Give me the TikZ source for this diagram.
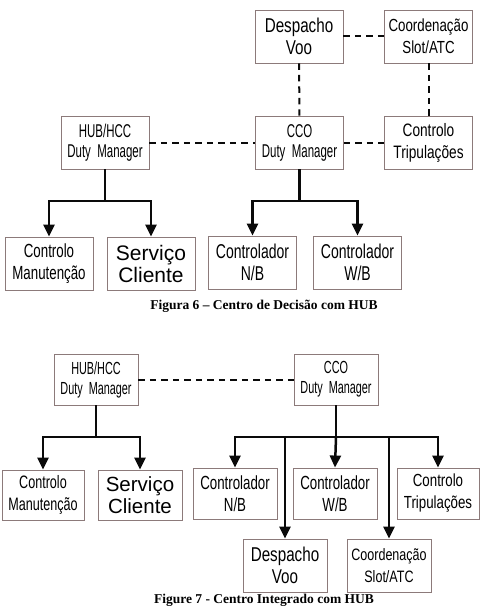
\documentclass[tikz,border=0pt]{standalone}
\usepackage{fontspec}
\setmainfont{Liberation Serif}
\setsansfont{Liberation Sans}
\newfontfamily\condsf[FakeStretch=0.62]{Liberation Sans}
\newfontfamily\narrowsf[FakeStretch=0.70]{Liberation Sans}
\newfontfamily\semisf[FakeStretch=0.76]{Liberation Sans}
\usetikzlibrary{arrows.meta, positioning, calc}
\definecolor{boxEdge}{RGB}{140,122,122}
\definecolor{lineInk}{RGB}{10,10,10}

\begin{document}
\begin{tikzpicture}[x=1pt,y=-1pt,
  unit/.style={draw=boxEdge,line width=0.9pt,fill=white,align=center,
               minimum width=88pt,minimum height=53pt,inner sep=0pt},
  unitS/.style={unit,minimum width=84pt,minimum height=51pt},
  duty/.style={font=\condsf\fontsize{#1}{20}\selectfont},
  ctrl/.style={font=\narrowsf\fontsize{#1}{22}\selectfont},
  semi/.style={font=\semisf\fontsize{#1}{22}\selectfont},
  wide/.style={font=\sffamily\fontsize{#1}{22}\selectfont},
  link/.style={line width=2pt,draw=lineInk,dash pattern=on 6.5pt off 5pt},
  stem/.style={line width=2.5pt,draw=lineInk},
  tree/.style={stem,-{Triangle[length=12pt,width=11pt]}},
  caption/.style={font=\bfseries\fontsize{13.5}{15}\selectfont}]
\useasboundingbox (0,0) rectangle (479,607);

% ===== Figura 6 — top two rows =====
\node[unit,semi=20] (desp6) at (299,36.5) {Despacho\\Voo};
\node[unit,semi=17.5] (coord6) at (428.5,36.5) {Coordenação\\Slot/ATC};
\node[unit,duty=18.5] (hub6) at (105,142.5) {HUB/HCC\\Duty~ Manager};
\node[unit,duty=18.5] (cco6) at (299.5,142.5) {CCO\\Duty~ Manager};
\node[unit,semi=18] (trip6) at (428.5,142.5) {Controlo\\Tripulações};

% bottom row
\node[unit,ctrl=19] (manut6) at (49,263.5) {Controlo\\Manutenção};
\node[unit,wide=21] (serv6) at (151,263.5) {Serviço\\Cliente};
\node[unit,ctrl=20] (nb6) at (252.5,262.5) {Controlador\\N/B};
\node[unit,ctrl=20] (wb6) at (357.5,262.5) {Controlador\\W/B};

% dashed links
\draw[link] (desp6) -- (coord6);
\draw[link] (desp6) -- (cco6);
\draw[link] (coord6) -- (trip6);
\draw[link] (hub6) -- (cco6);
\draw[link] (cco6) -- (trip6);

% branches
\coordinate (hubJ6) at (hub6.south |- 0,201);
\coordinate (ccoJ6) at (cco6.south |- 0,201);
\draw[stem] (hub6.south) -- (hubJ6);
\draw[tree] (hubJ6) -| (manut6.north);
\draw[tree] (hubJ6) -| (serv6.north);
\draw[stem] (cco6.south) -- (ccoJ6);
\draw[tree] (ccoJ6) -| (nb6.north);
\draw[tree] (ccoJ6) -| (wb6.north);

\node[caption] (cap6) at (264,306) {Figura 6 -- Centro de Decisão com HUB};

% ===== Figure 7 — integrated centre =====
\node[unitS,duty=17.5] (hub7) at (96,379.5) {HUB/HCC\\Duty~ Manager};
\node[unitS,duty=17.5] (cco7) at (336,379.5) {CCO\\Duty~ Manager};
\draw[link] (hub7) -- (cco7);

\node[unitS,ctrl=18,minimum width=82pt,minimum height=50pt] (manut7) at (43,495) {Controlo\\Manutenção};
\node[unitS,wide=20.5,minimum height=50pt] (serv7) at (140,495) {Serviço\\Cliente};
\node[unitS,ctrl=19] (nb7) at (235,493.5) {Controlador\\N/B};
\node[unitS,ctrl=19] (wb7) at (335,493.5) {Controlador\\W/B};
\node[unitS,semi=17.5,minimum width=82pt] (trip7) at (438,493.5) {Controlo\\Tripulações};
\node[unitS,semi=20,minimum height=53pt] (desp7) at (285,565.5) {Despacho\\Voo};
\node[unitS,semi=16.5,minimum height=53pt] (coord7) at (389,565.5) {Coordenação\\Slot/ATC};

\coordinate (hubJ7) at (hub7.south |- 0,437);
\coordinate (ccoJ7) at (cco7.south |- 0,437);
\draw[stem] (hub7.south) -- (hubJ7);
\draw[tree] (hubJ7) -| (manut7.north);
\draw[tree] (hubJ7) -| (serv7.north);
\draw[stem] (cco7.south) -- (ccoJ7);
\draw[tree] (ccoJ7) -| (nb7.north);
\draw[tree] (ccoJ7) -- (wb7.north);
\draw[tree] (ccoJ7) -| (trip7.north);
\draw[tree] (ccoJ7) -| (desp7.north);
\draw[tree] (ccoJ7) -| (coord7.north);

\node[caption,anchor=base,inner sep=0pt] (cap7) at (264,603) {Figure 7 - Centro Integrado com HUB};
\end{tikzpicture}
\end{document}
